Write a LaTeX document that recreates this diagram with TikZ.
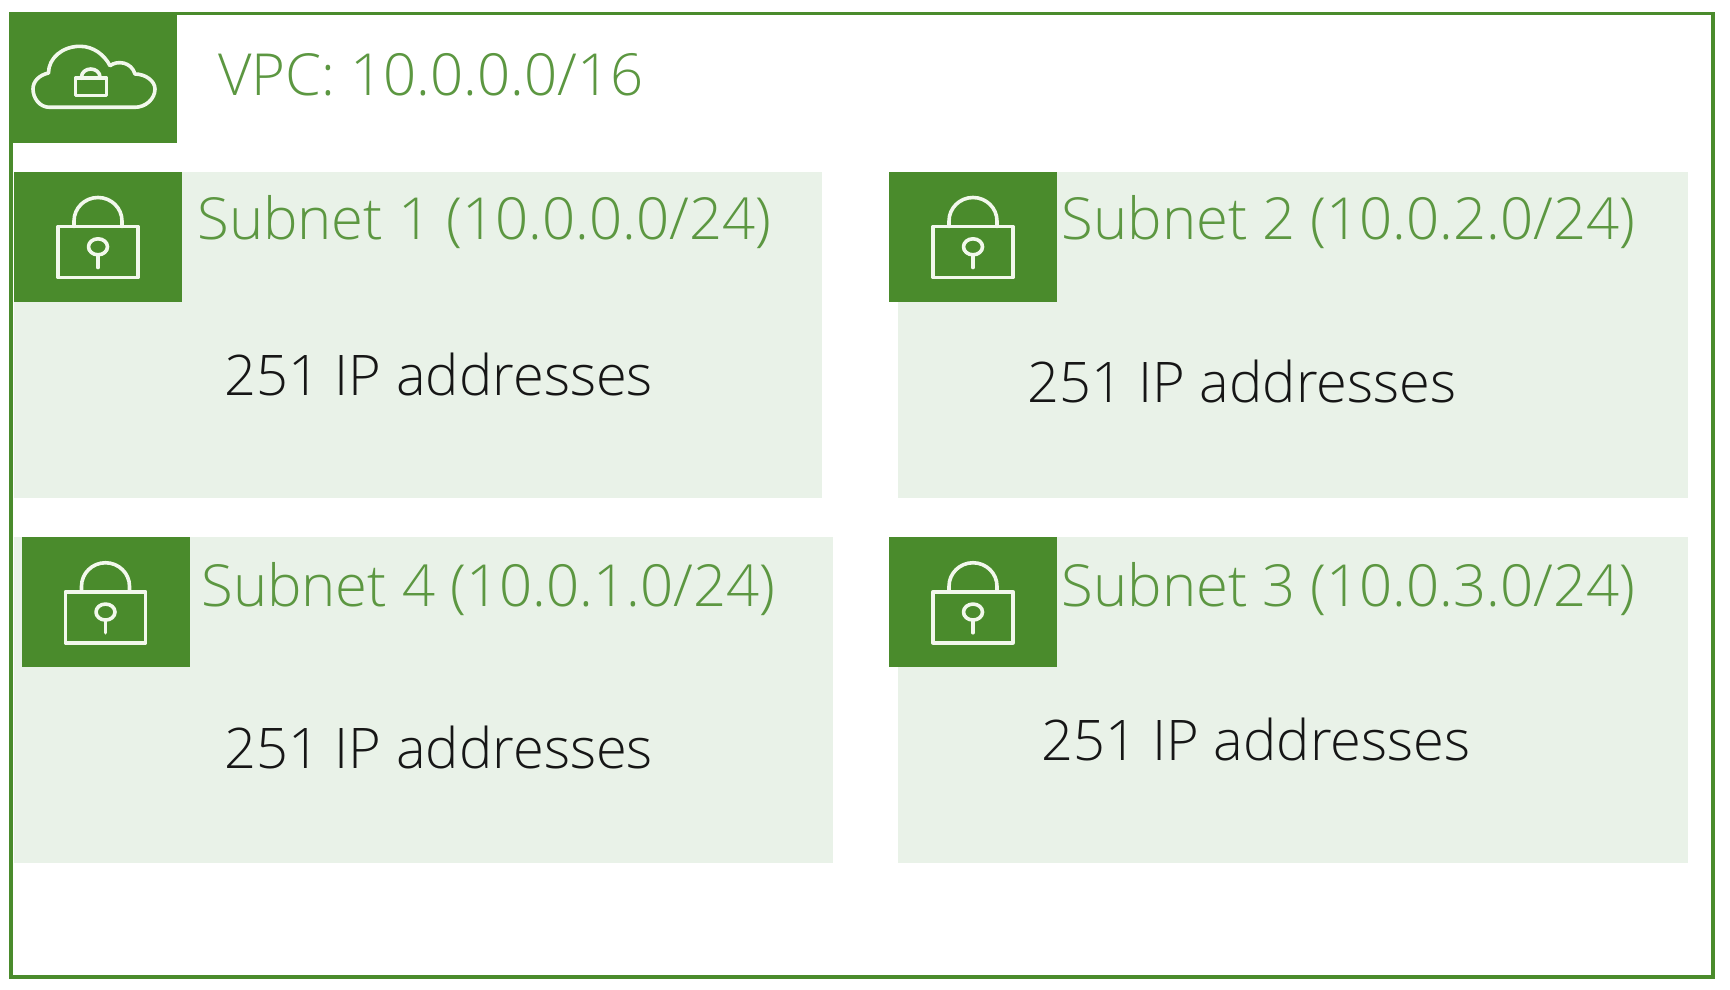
\documentclass[tikz,border=0pt]{standalone}
\usepackage{fontspec}
\setmainfont{Open Sans Light}
\definecolor{awsgreen}{HTML}{4A8B2C}
\definecolor{subfill}{HTML}{E9F2E8}
\definecolor{inktext}{HTML}{161616}
\definecolor{glyphline}{HTML}{F2F8EC}
\tikzset{
  x=0.5pt,y=-0.5pt,
  frame/.style={draw=awsgreen,line width=1.7pt,fill=white},
  subbox/.style={fill=subfill,draw=none},
  iconbox/.style={fill=awsgreen,draw=none,inner sep=0pt,minimum width=84pt,minimum height=65pt},
  headtext/.style={anchor=base west,inner sep=0pt,text=awsgreen!90!white,font=\fontsize{29}{31}\selectfont},
  counttext/.style={anchor=base west,inner sep=0pt,text=inktext,font=\fontsize{28}{30}\selectfont},
  glyph/.style={draw=glyphline,line width=1.8pt,fill=none,line join=round,line cap=round},
  lockicon/.pic={
    \draw[glyph] (-40,-10.5) rectangle (40,40.5);
    \draw[glyph] (-24,-10.5) -- (-24,-16) arc[start angle=180,end angle=0,x radius=24,y radius=-23.5] -- (24,-10.5);
    \draw[glyph] (0,9.8) ellipse[x radius=9.5,y radius=8];
    \draw[glyph] (0,17.8) -- (0,30.5);
  },
  cloudicon/.pic={
    \draw[glyph] (-44,29.3) .. controls (-54,29.3) and (-60.5,20) .. (-60.5,11)
      .. controls (-60.5,3) and (-54,-3) .. (-45,-5)
      .. controls (-45,-20) and (-31,-31.7) .. (-13.5,-31.7)
      .. controls (0,-31.7) and (11,-23) .. (16.5,-12.3)
      .. controls (24,-18) and (38,-16) .. (41.5,-4)
      .. controls (52,-4) and (61.5,3) .. (61.5,11)
      .. controls (61.5,21) and (52,29.3) .. (41.5,29.3) -- cycle;
    \draw[glyph] (-18,0.3) rectangle (13,17.7);
    \draw[glyph] (-12,0.3) -- (-12,-1) arc[start angle=180,end angle=0,x radius=9.25,y radius=-8] -- (6.5,0.3);
  }
}
\begin{document}
\begin{tikzpicture}
\useasboundingbox (0,0) rectangle (1730,990);
\path[frame] (11,13.5) rectangle (1713,977);
% subnet backgrounds
\path[subbox] (14,172) rectangle (822,497.5);
\path[subbox] (898,172) rectangle (1688,497.5);
\path[subbox] (14,537) rectangle (833,863);
\path[subbox] (898,537) rectangle (1688,863);
% icon tiles
\node[iconbox,minimum width=83.5pt] (vpctile) at (93.5,78) {};
\node[iconbox] (tile1) at (98,237) {};
\node[iconbox] (tile2) at (973,237) {};
\node[iconbox] (tile4) at (105.5,602.25) {};
\node[iconbox] (tile3) at (973,602.25) {};
\pic at (vpctile) {cloudicon};
\pic at (tile1) {lockicon};
\pic at (tile2) {lockicon};
\pic at (tile4) {lockicon};
\pic at (tile3) {lockicon};
% labels
\node[headtext] (vpclabel) at (218,96) {VPC: 10.0.0.0/16};
\node[headtext] (head1) at (197,239.5) {Subnet 1 (10.0.0.0/24)};
\node[headtext] (head2) at (1061.5,239.5) {Subnet 2 (10.0.2.0/24)};
\node[headtext] (head4) at (201,606.5) {Subnet 4 (10.0.1.0/24)};
\node[headtext] (head3) at (1061.5,606.5) {Subnet 3 (10.0.3.0/24)};
\node[counttext] (count1) at (224,395) {251 IP addresses};
\node[counttext] (count2) at (1027.5,402) {251 IP addresses};
\node[counttext] (count4) at (224,768) {251 IP addresses};
\node[counttext] (count3) at (1041.5,760.5) {251 IP addresses};
\end{tikzpicture}
\end{document}
